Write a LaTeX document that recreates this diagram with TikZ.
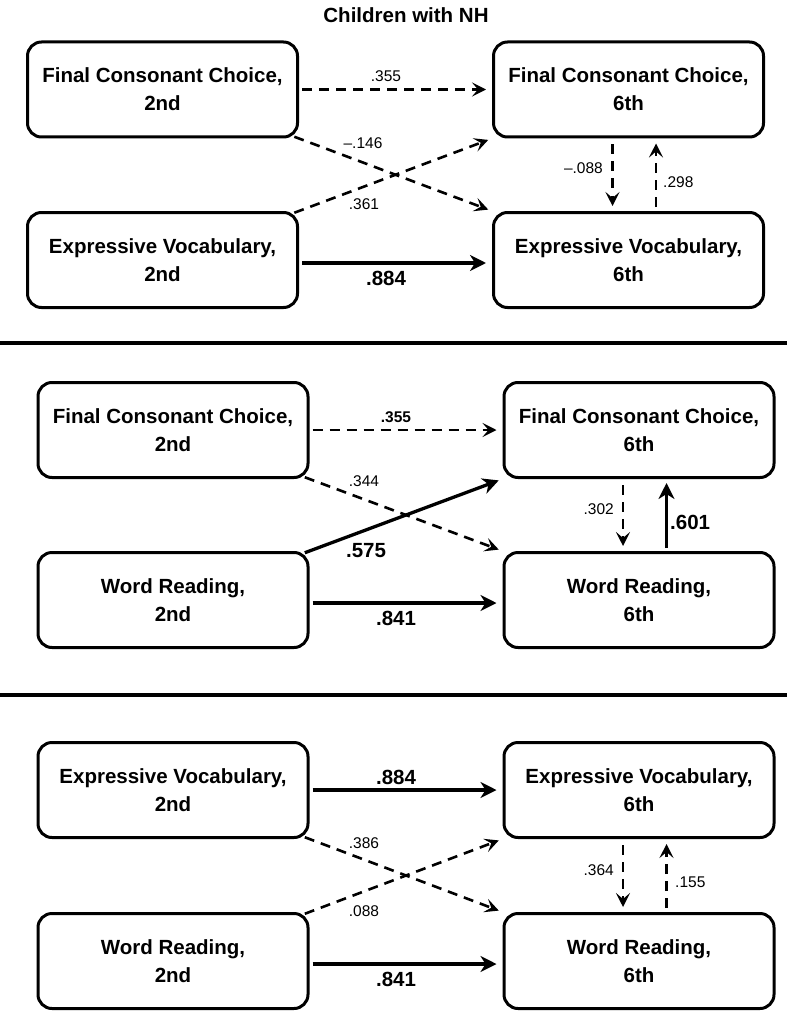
\documentclass[tikz,border=0pt]{standalone}
\usepackage{fontspec}
\setmainfont{Liberation Sans}
\usetikzlibrary{arrows.meta}
\begin{document}
\begin{tikzpicture}[x=1pt,y=-1pt,
 box/.style={draw, line width=3pt, rounded corners=14pt, minimum width=270pt, minimum height=95pt, align=center, font=\bfseries\fontsize{20.5}{28}\selectfont, inner sep=0pt},
 solidarr/.style={line width=3.3pt, -{Stealth[length=16pt,width=16pt,inset=5pt]}},
 dasharr/.style={line width=2.6pt, dash pattern=on 10pt off 7pt, -{Stealth[length=14pt,width=14pt,inset=6pt]}},
 lab/.style={font=\fontsize{15.5}{18}\selectfont, inner sep=0pt},
 blab/.style={font=\bfseries\fontsize{20.5}{24}\selectfont, inner sep=0pt},
 sblab/.style={font=\bfseries\fontsize{15.5}{18}\selectfont, inner sep=0pt},
 sep/.style={line width=3.3pt}]
\useasboundingbox (0,0) rectangle (787,1011);

\node[blab] (title) at (406,15) {Children with NH};

% ---------- Panel 1 ----------
\node[box] (A1) at (162.5,89.5) {Final Consonant Choice,\\2nd};
\node[box] (B1) at (628.5,89.5) {Final Consonant Choice,\\6th};
\node[box] (C1) at (162.5,260) {Expressive Vocabulary,\\2nd};
\node[box] (D1) at (628.5,260) {Expressive Vocabulary,\\6th};

\draw[dasharr, shorten <=3pt, shorten >=6pt] (A1.east) -- (B1.west);
\draw[solidarr, shorten <=3pt, shorten >=6pt] ([yshift=-3pt]C1.east) -- ([yshift=-3pt]D1.west);
\draw[dasharr, shorten <=-5pt, shorten >=4pt] (A1.south east) -- (D1.north west);
\draw[dasharr, shorten <=-5pt, shorten >=4pt] (C1.north east) -- (B1.south west);
\draw[dasharr, shorten <=6pt, shorten >=5pt] ([xshift=-16pt]B1.south) -- ([xshift=-16pt]D1.north);
\draw[dasharr, shorten <=4pt, shorten >=5pt] ([xshift=27.5pt]D1.north) -- ([xshift=27.5pt]B1.south);

\node[lab] (p1a) at (386,76) {.355};
\node[lab] (p1b) at (363,143) {--.146};
\node[lab] (p1c) at (364,204) {.361};
\node[blab] (p1d) at (386,278) {.884};
\node[lab, anchor=east] (p1e) at (603,168) {--.088};
\node[lab, anchor=west] (p1f) at (663,182) {.298};

\draw[sep] (0,343) -- (787,343);

% ---------- Panel 2 ----------
\node[box] (A2) at (173,430) {Final Consonant Choice,\\2nd};
\node[box] (B2) at (639,430) {Final Consonant Choice,\\6th};
\node[box] (C2) at (173,600) {Word Reading,\\2nd};
\node[box] (D2) at (639,600) {Word Reading,\\6th};

\draw[dasharr, shorten <=3pt, shorten >=6pt] (A2.east) -- (B2.west);
\draw[solidarr, shorten <=3pt, shorten >=6pt] ([yshift=-3pt]C2.east) -- ([yshift=-3pt]D2.west);
\draw[dasharr, shorten <=-5pt, shorten >=4pt] (A2.south east) -- (D2.north west);
\draw[solidarr, shorten <=-5pt, shorten >=4pt] (C2.north east) -- (B2.south west);
\draw[dasharr, shorten <=6pt, shorten >=5pt] ([xshift=-16pt]B2.south) -- ([xshift=-16pt]D2.north);
\draw[solidarr, shorten <=3pt, shorten >=4pt] ([xshift=27.5pt]D2.north) -- ([xshift=27.5pt]B2.south);

\node[sblab] (p2a) at (396,417) {.355};
\node[lab] (p2b) at (364,481) {.344};
\node[blab] (p2c) at (366,551) {.575};
\node[blab] (p2d) at (396,618) {.841};
\node[lab, anchor=east] (p2e) at (614,509) {.302};
\node[blab, anchor=west] (p2f) at (670,522) {.601};

\draw[sep] (0,695) -- (787,695);

% ---------- Panel 3 ----------
\node[box] (A3) at (173,790) {Expressive Vocabulary,\\2nd};
\node[box] (B3) at (639,790) {Expressive Vocabulary,\\6th};
\node[box] (C3) at (173,961) {Word Reading,\\2nd};
\node[box] (D3) at (639,961) {Word Reading,\\6th};

\draw[solidarr, shorten <=3pt, shorten >=6pt] (A3.east) -- (B3.west);
\draw[solidarr, shorten <=3pt, shorten >=6pt] ([yshift=-3pt]C3.east) -- ([yshift=-3pt]D3.west);
\draw[dasharr, shorten <=-5pt, shorten >=4pt] (A3.south east) -- (D3.north west);
\draw[dasharr, shorten <=-5pt, shorten >=4pt] (C3.north east) -- (B3.south west);
\draw[dasharr, shorten <=6pt, shorten >=5pt] ([xshift=-16pt]B3.south) -- ([xshift=-16pt]D3.north);
\draw[dasharr, shorten <=4pt, shorten >=5pt] ([xshift=27.5pt]D3.north) -- ([xshift=27.5pt]B3.south);

\node[blab] (p3a) at (396,777) {.884};
\node[lab] (p3b) at (364,843) {.386};
\node[lab] (p3c) at (364,911) {.088};
\node[blab] (p3d) at (396,979) {.841};
\node[lab, anchor=east] (p3e) at (614,870) {.364};
\node[lab, anchor=west] (p3f) at (675,882) {.155};
\end{tikzpicture}
\end{document}
